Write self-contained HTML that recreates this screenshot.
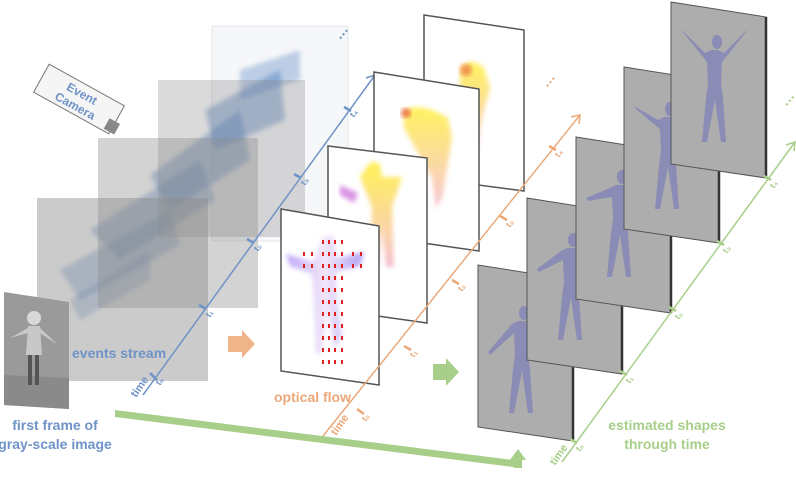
<!DOCTYPE html>
<html><head><meta charset="utf-8"><style>
html,body{margin:0;padding:0;background:#fff;}
svg{display:block;font-family:"Liberation Sans",sans-serif;}
.lbl{font-weight:bold;font-size:14px;}
</style></head><body>
<svg width="796" height="483" viewBox="0 0 796 483">
<defs>
<linearGradient id="flowA" x1="0" y1="0" x2="1" y2="0"><stop offset="0" stop-color="#7a4df0"/><stop offset="0.5" stop-color="#e6d0f5"/><stop offset="1" stop-color="#5a3de6"/></linearGradient>
<linearGradient id="flowB" x1="0" y1="0" x2="0" y2="1"><stop offset="0" stop-color="#ffef3a"/><stop offset="0.7" stop-color="#f9c9a0"/><stop offset="1" stop-color="#f3b4c6"/></linearGradient>
<filter id="blur1"><feGaussianBlur stdDeviation="2.5"/></filter>
</defs>

<!-- event volume -->
<g>
<rect x="212" y="26" width="136" height="215" fill="#f6f7f9" stroke="#e2e5ea" stroke-width="1"/>
<g fill="#4d7fbf" filter="url(#blur1)">
<polygon points="240,70 300,50 300,80 240,100" opacity="0.35"/>
<polygon points="205,110 280,70 285,120 215,150" opacity="0.45"/>
<polygon points="150,175 240,110 250,160 170,210" opacity="0.45"/>
<polygon points="90,230 200,160 215,200 120,260" opacity="0.4"/>
<polygon points="60,270 170,210 180,245 80,300" opacity="0.35"/>
<polygon points="70,300 150,250 150,280 80,320" opacity="0.3"/>
</g>
<rect x="158" y="80" width="147" height="157" fill="#8c8c8c" fill-opacity="0.32"/>
<rect x="98" y="138" width="160" height="170" fill="#8c8c8c" fill-opacity="0.38"/>
<rect x="37" y="198" width="171" height="183" fill="#8c8c8c" fill-opacity="0.45"/>
<text x="335" y="38" fill="#6f93c7" font-size="14" font-weight="bold" transform="rotate(-50 340 34)">…</text>
</g>

<!-- event camera -->
<g transform="translate(79,99) rotate(29)">
<rect x="-43" y="-16" width="86" height="32" fill="#f5f5f5" stroke="#777" stroke-width="1"/>
<rect x="36" y="2" width="12" height="12" fill="#888"/>
<text x="0" y="-2" text-anchor="middle" font-size="12" font-weight="bold" fill="#6f93c7">Event</text>
<text x="0" y="12" text-anchor="middle" font-size="12" font-weight="bold" fill="#6f93c7">Camera</text>
</g>

<!-- gray image -->
<g>
<polygon points="4,292 69,302 69,409 4,405" fill="#9a9a9a"/>
<polygon points="4,375 69,378 69,409 4,405" fill="#8a8a8a"/>
<circle cx="34" cy="318" r="7" fill="#d8d8d8"/>
<polygon points="28,326 40,326 42,355 26,355" fill="#c8c8c8"/>
<polygon points="10,338 28,328 28,333" fill="#c8c8c8"/>
<polygon points="58,345 40,328 40,333" fill="#c8c8c8"/>
<rect x="28" y="355" width="4" height="30" fill="#555"/><rect x="35" y="355" width="4" height="30" fill="#555"/>
</g>

<!-- blue axis -->
<g stroke="#6f93c7" stroke-width="1.5" fill="none">
<line x1="143" y1="395" x2="375" y2="75"/>
<polyline points="366,78 375,75 374,84"/>
<line x1="150" y1="373" x2="157" y2="380" stroke-width="2.5"/>
<line x1="199" y1="305" x2="206" y2="309" stroke-width="2.5"/>
<line x1="247" y1="239" x2="254" y2="243" stroke-width="2.5"/>
<line x1="294" y1="174" x2="301" y2="178" stroke-width="2.5"/>
<line x1="344" y1="107" x2="351" y2="111" stroke-width="2.5"/>
</g>
<g fill="#6f93c7" font-size="9" font-weight="bold">
<text x="160" y="386" transform="rotate(-55 160 386)">t₀</text>
<text x="210" y="318" transform="rotate(-55 210 318)">t₁</text>
<text x="258" y="252" transform="rotate(-55 258 252)">t₂</text>
<text x="305" y="186" transform="rotate(-55 305 186)">t₃</text>
<text x="354" y="118" transform="rotate(-55 354 118)">t₄</text>
<text x="136" y="398" font-size="11" transform="rotate(-55 136 398)">time</text>
</g>
<text x="72" y="358" class="lbl" fill="#6f93c7">events stream</text>
<text x="55" y="430" class="lbl" text-anchor="middle" fill="#6f93c7">first frame of</text>
<text x="55" y="449" class="lbl" text-anchor="middle" fill="#6f93c7">gray-scale image</text>

<!-- orange arrow -->
<polygon points="228,336 242,336 242,330 255,344 242,358 242,352 228,352" fill="#f0b489"/>

<!-- flow panels -->
<g>
<polygon points="424,15 524,30 524,191 424,178" fill="#fff" stroke="#555" stroke-width="1.5"/>
<path d="M460 68 q10 -12 24 0 l6 20 l-8 30 l-6 40 l-4 0 l-2 -40 l-10 -25z" fill="url(#flowB)" opacity="0.8" filter="url(#blur1)"/>
<circle cx="466" cy="70" r="6" fill="#e85a3a" opacity="0.6" filter="url(#blur1)"/>
</g>
<g>
<polygon points="374,72 479,89 479,251 374,236" fill="#fff" stroke="#555" stroke-width="1.5"/>
<path d="M403 110 q20 -8 45 8 l4 20 l-10 60 l-6 10 l-4 -30 l-14 -25 l-14 -25z" fill="url(#flowB)" opacity="0.8" filter="url(#blur1)"/>
<circle cx="406" cy="113" r="5" fill="#e03030" opacity="0.6" filter="url(#blur1)"/>
</g>
<g>
<polygon points="328,146 427,158 427,323 328,309" fill="#fff" stroke="#555" stroke-width="1.5"/>
<path d="M368 165 q6 -6 12 0 l2 12 l20 0 l-10 30 l2 60 l-8 0 l-4 -40 l-4 40 l-8 0 l2 -60 l-12 -30 z" fill="url(#flowB)" opacity="0.85" filter="url(#blur1)"/>
<path d="M340 185 l18 8 l-4 10 l-14 -8z" fill="#c04fd0" opacity="0.6" filter="url(#blur1)"/>
</g>
<g>
<polygon points="281,209 379,226 379,385 281,371" fill="#fff" stroke="#555" stroke-width="1.5"/>
<path d="M322 238 q6 -4 12 0 l2 20 l28 -6 l-4 14 l-24 6 l0 20 l6 44 l-8 14 l-6 -40 l-6 44 l-6 0 l-2 -58 l-2 -22 l-22 -8 l-4 -12 l28 8z" fill="url(#flowA)" opacity="0.5" filter="url(#blur1)"/>
</g>
<g fill="#dd2222" id="vecs"></g>

<!-- orange axis -->
<g stroke="#eba878" stroke-width="1.5" fill="none">
<line x1="323" y1="436" x2="580" y2="115"/>
<polyline points="571,117 580,115 579,124"/>
<line x1="357" y1="409" x2="364" y2="414" stroke-width="2.5"/>
<line x1="404" y1="346" x2="411" y2="350" stroke-width="2.5"/>
<line x1="452" y1="280" x2="459" y2="284" stroke-width="2.5"/>
<line x1="500" y1="216" x2="507" y2="220" stroke-width="2.5"/>
<line x1="549" y1="146" x2="556" y2="150" stroke-width="2.5"/>
</g>
<g fill="#eba878" font-size="9" font-weight="bold">
<text x="366" y="422" transform="rotate(-55 366 422)">t₀</text>
<text x="414" y="358" transform="rotate(-55 414 358)">t₁</text>
<text x="462" y="292" transform="rotate(-55 462 292)">t₂</text>
<text x="510" y="228" transform="rotate(-55 510 228)">t₃</text>
<text x="559" y="158" transform="rotate(-55 559 158)">t₄</text>
<text x="336" y="436" font-size="11" transform="rotate(-55 336 436)">time</text>
<text x="543" y="88" font-size="14" transform="rotate(-50 545 84)">…</text>
</g>
<text x="274" y="402" class="lbl" fill="#eba878">optical flow</text>

<!-- green arrow -->
<polygon points="433,364 446,364 446,358 459,372 446,386 446,380 433,380" fill="#a8cf8a"/>
<g>
<polygon points="115,410 521,461 521,468 115,417" fill="#a8cf8a"/>
<rect x="514" y="458" width="8" height="10" fill="#a8cf8a"/>
<polygon points="510,460 518,449 526,460" fill="#a8cf8a"/>
</g>

<g id="shapes"></g>

<!-- green axis -->
<g stroke="#a8cf8a" stroke-width="1.5" fill="none">
<line x1="562" y1="462" x2="795" y2="142"/>
<polyline points="786,145 795,142 794,151"/>
<line x1="570" y1="439" x2="577" y2="443" stroke-width="2.5"/>
<line x1="620" y1="371" x2="627" y2="375" stroke-width="2.5"/>
<line x1="669" y1="307" x2="676" y2="311" stroke-width="2.5"/>
<line x1="717" y1="241" x2="724" y2="245" stroke-width="2.5"/>
<line x1="764" y1="176" x2="771" y2="180" stroke-width="2.5"/>
</g>
<g fill="#a8cf8a" font-size="9" font-weight="bold">
<text x="580" y="452" transform="rotate(-55 580 452)">t₀</text>
<text x="630" y="384" transform="rotate(-55 630 384)">t₁</text>
<text x="679" y="320" transform="rotate(-55 679 320)">t₂</text>
<text x="727" y="254" transform="rotate(-55 727 254)">t₃</text>
<text x="774" y="189" transform="rotate(-55 774 189)">t₄</text>
<text x="555" y="466" font-size="11" transform="rotate(-55 555 466)">time</text>
<text x="782" y="106" font-size="14" transform="rotate(-50 785 102)">…</text>
</g>
<text x="667" y="430" class="lbl" text-anchor="middle" fill="#a8cf8a">estimated shapes</text>
<text x="667" y="449" class="lbl" text-anchor="middle" fill="#a8cf8a">through time</text>
</svg>
<script>
var shapePanels=[[478,265],[527,198],[576,137],[624,67],[671,2]];
var armLift=[12,2,-6,-30,-40];
var headDrop=[48,42,40,42,40];
var ns="http://www.w3.org/2000/svg";
var sg=document.getElementById('shapes');
shapePanels.forEach(function(p,i){
  var x=p[0],y=p[1];
  var g=document.createElementNS(ns,'g');
  
  
  var poly=document.createElementNS(ns,'polygon');
  poly.setAttribute('points',x+','+y+' '+(x+95)+','+(y+15)+' '+(x+95)+','+(y+176)+' '+x+','+(y+162));
  poly.setAttribute('fill','#adadad');poly.setAttribute('stroke','#555');poly.setAttribute('stroke-width','1');
  g.appendChild(poly);
  var edge=document.createElementNS(ns,'line');
  edge.setAttribute('x1',x+95);edge.setAttribute('y1',y+15);edge.setAttribute('x2',x+95);edge.setAttribute('y2',y+176);
  edge.setAttribute('stroke','#333');edge.setAttribute('stroke-width','2.5');g.appendChild(edge);
  var cx=x+46,cy=y+headDrop[i];var a=armLift[i];
  var body=document.createElementNS(ns,'path');
  body.setAttribute('d','M'+(cx-6)+' '+(cy+8)+' l-6 3 l-24 '+(16+a)+' l2 3 l24 '+(-10-a)+' l1 22 l-2 14 l-4 44 l5 0 l8 -42 l6 42 l5 0 l-3 -44 l-2 -14 l1 -22 l24 '+(10+a)+' l2 -3 l-24 '+(-16-a)+' l-6 -3 z');
  body.setAttribute('fill','#8a8cb6');g.appendChild(body);
  var head=document.createElementNS(ns,'ellipse');
  head.setAttribute('cx',cx);head.setAttribute('cy',cy);head.setAttribute('rx',5);head.setAttribute('ry',7);
  head.setAttribute('fill','#8a8cb6');g.appendChild(head);
  sg.appendChild(g);
});
var vecCols=[303,311,322,328,334,341,352,360];
var vecRows=[240,252,264,276,288,300,312,324,336,348,360];
var vg=document.getElementById('vecs');
vecRows.forEach(function(r){vecCols.forEach(function(c){
  var arm=(r>=252&&r<270);var leg=(r>300&&(c>=322&&c<=345));var torso=(c>=322&&c<=341&&r<=300);
  if(!(arm||leg||torso))return;
  var e=document.createElementNS(ns,'rect');
  e.setAttribute('x',c);e.setAttribute('y',r);e.setAttribute('width',2);e.setAttribute('height',4);
  
  
  vg.appendChild(e);
});});
</script>
</body></html>
